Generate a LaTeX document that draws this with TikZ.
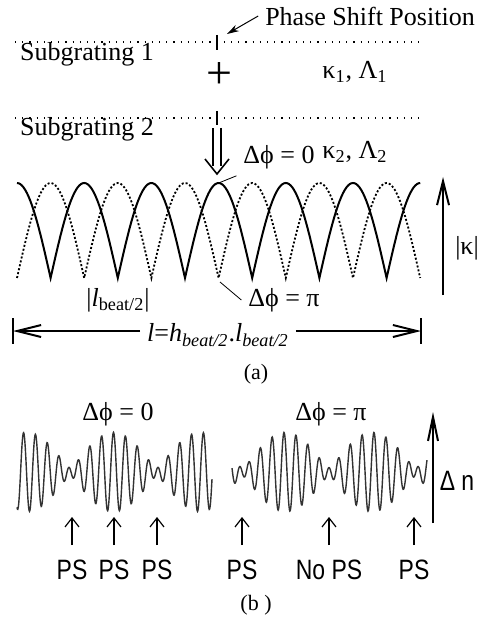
\documentclass[tikz,border=0pt]{standalone}
\usepackage{fontspec}
\setmainfont{Liberation Serif}
\newfontfamily\narrowsans[FakeStretch=0.82]{Liberation Sans}
\usetikzlibrary{arrows.meta}

\begin{document}
\begin{tikzpicture}[x=0.5pt, y=-0.5pt, font=\fontsize{13}{15}\selectfont,
		barb/.style={-{Straight Barb[length=12pt,width=6pt]}, line width=1pt},
		smallup/.style={-{Straight Barb[length=4.5pt,width=7pt]}, line width=0.6pt},
		grating/.style={dash pattern=on 0.6pt off 3pt, line width=0.6pt},
		wave/.style={line width=0.7pt, black!80, samples=500, smooth},
		leader/.style={line width=0.4pt},
		pslabel/.style={font=\narrowsans\fontsize{14}{16}\selectfont}]
	\useasboundingbox (0,0) rectangle (482,620);
	% (a) subgratings
	\node (psp) at (370,16) {Phase Shift Position};
	\coordinate (psmark) at (227,34);
	\draw[-{Stealth[length=6pt,width=3.5pt]}, line width=0.5pt] (psp.west) -- (psmark);
	\draw[grating] (15,42) -- (425,42);
	\draw[line width=1pt] (217,35) -- (217,50);
	\node (sub1) at (87,54) {Subgrating 1};
	\node (plus) at (219,76) {\fontsize{23}{23}\selectfont +};
	\node (k1) at (355,72) {κ\textsubscript{1}, Λ\textsubscript{1}};
	\draw[grating] (15,118) -- (420,118);
	\draw[line width=1pt] (217,111) -- (217,125);
	\node (sub2) at (87,129) {Subgrating 2};
	\node (k2) at (355,152) {κ\textsubscript{2}, Λ\textsubscript{2}};
	\coordinate (dbltail) at (217,128);
	\coordinate (dbltip) at (217,174);
	\draw[double, double distance=3pt, line width=0.8pt, shorten >=4pt] (dbltail) -- (dbltip);
	\draw[line width=0.8pt] ([shift={(-12,-15)}]dbltip) -- (dbltip) -- ([shift={(12,-15)}]dbltip);
	% |kappa| of the two gratings
	\draw[line width=1pt, domain=17:420.2, samples=241] plot (\x, {278 - 95*abs(cos(2.6786*(\x-17)))});
	\draw[dash pattern=on 1pt off 1pt, line width=0.9pt, domain=17:420.2, samples=241] plot (\x, {278 - 95*abs(sin(2.6786*(\x-17)))});
	\coordinate (peak0) at (218.6,183);
	\coordinate (valpi) at (220,282);
	\node (dphi0) at (279,157) {Δϕ = 0};
	\node (dphipi) at (284,300) {Δϕ = π};
	\draw[leader] (dphi0.south west) -- (peak0);
	\draw[leader] (dphipi.west) -- (valpi);
	\node (lbeat) at (118,300) {|\textit{l}\textsubscript{beat/2}|};
	\coordinate (kbot) at (443,295);
	\coordinate (ktop) at (443,177);
	\draw[barb] (kbot) -- (ktop);
	\node (kabs) at (467,248) {|κ|};
	% length of the grating
	\draw[line width=1pt] (13,318) -- (13,344);
	\draw[line width=1pt] (421,318) -- (421,344);
	\coordinate (dimL) at (13,331);
	\coordinate (dimR) at (421,331);
	\node (len) at (218,335) {\textit{l}=\textit{h}\textsubscript{\textit{beat/2}}.\textit{l}\textsubscript{\textit{beat/2}}};
	\draw[barb] (len.west |- dimL) -- (dimL);
	\draw[barb] (len.east |- dimR) -- (dimR);
	\node (capa) at (256,374) {\fontsize{11}{13}\selectfont (a)};
	% (b) index profiles
	\node (b0) at (118,414) {Δϕ = 0};
	\node (bpi) at (331,414) {Δϕ = π};
	\draw[wave, domain=17:212] plot (\x, {472 - 22*(cos(32.086*(\x-113.5)) + 0.8*cos(27.929*(\x-113.5)))});
	\draw[wave, domain=232:427] plot (\x, {472 - 22*(cos(32.086*(\x-329)) - 0.8*cos(27.929*(\x-329)))});
	\coordinate (nbot) at (433,523);
	\coordinate (ntop) at (433,412);
	\draw[barb, -{Straight Barb[length=12pt,width=5pt]}] (nbot) -- (ntop);
	\node[pslabel] (dn) at (457,481) {Δ n};
	\foreach \px/\lab in {72/PS, 114/PS, 157/PS, 242/PS, 329/No PS, 414/PS} {
		\node[pslabel] (ps\px) at (\px,570) {\lab};
		\coordinate (tip\px) at (\px,517);
		\draw[smallup, shorten <=4pt] (ps\px.north) -- (tip\px);
	}
	\node (capb) at (256,605) {\fontsize{11}{13}\selectfont (b )};
\end{tikzpicture}
\end{document}
